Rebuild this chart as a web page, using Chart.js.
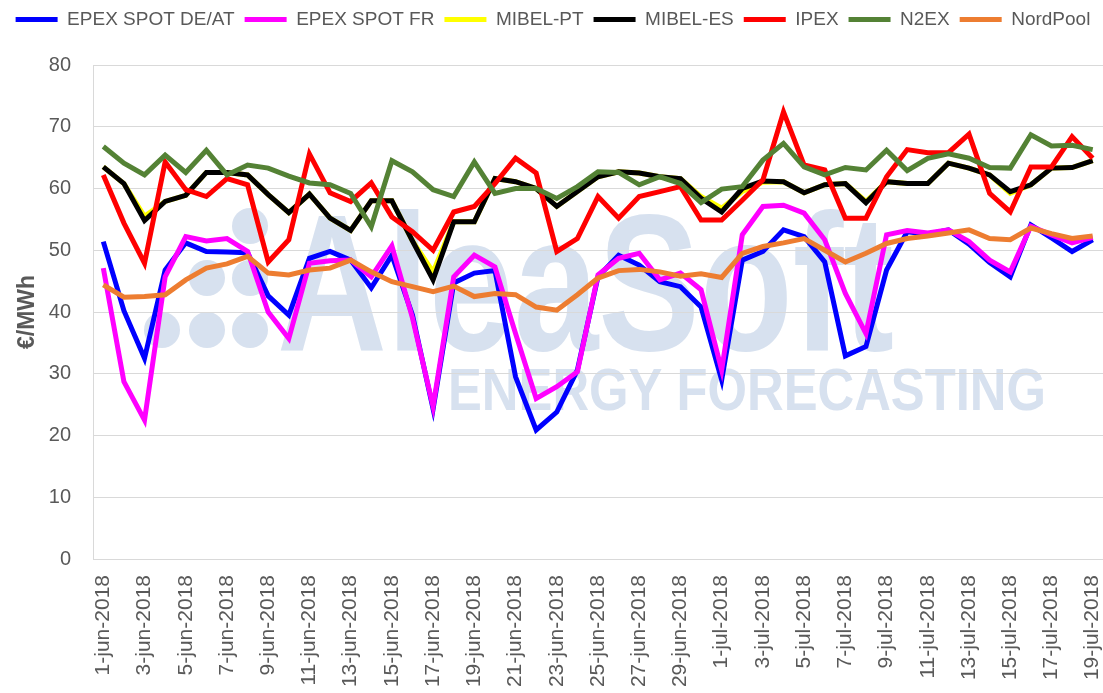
<!DOCTYPE html>
<html>
<head>
<meta charset="utf-8">
<script src="https://cdn.jsdelivr.net/npm/chart.js@4.4.0/dist/chart.umd.min.js"></script>
<style>
  body { margin: 0; background: #fff; }
</style>
</head>
<body>
<canvas id="chartPrecios" width="1103" height="693"></canvas>
<script>
var fechas = ["1-jun-2018","2-jun-2018","3-jun-2018","4-jun-2018","5-jun-2018","6-jun-2018","7-jun-2018","8-jun-2018","9-jun-2018","10-jun-2018",
  "11-jun-2018","12-jun-2018","13-jun-2018","14-jun-2018","15-jun-2018","16-jun-2018","17-jun-2018","18-jun-2018","19-jun-2018","20-jun-2018",
  "21-jun-2018","22-jun-2018","23-jun-2018","24-jun-2018","25-jun-2018","26-jun-2018","27-jun-2018","28-jun-2018","29-jun-2018","30-jun-2018",
  "1-jul-2018","2-jul-2018","3-jul-2018","4-jul-2018","5-jul-2018","6-jul-2018","7-jul-2018","8-jul-2018","9-jul-2018","10-jul-2018",
  "11-jul-2018","12-jul-2018","13-jul-2018","14-jul-2018","15-jul-2018","16-jul-2018","17-jul-2018","18-jul-2018","19-jul-2018"];

var epexDeAt = [51.4,40.2,32.5,46.8,51.2,49.8,49.7,49.6,42.6,39.5,48.7,49.8,48.4,43.9,49.2,39.5,24.3,44.7,46.3,46.7,29.5,20.9,23.8,30.6,45.7,49.2,47.6,44.9,44.1,40.8,29.0,48.4,49.8,53.3,52.2,48.1,32.9,34.4,46.8,53.0,52.6,53.3,51.0,48.0,45.7,54.1,52.0,49.8,51.7];
var epexFr = [47.1,28.7,22.5,45.7,52.2,51.5,51.9,49.8,40.0,35.7,47.9,48.3,48.4,45.7,50.7,39.0,24.7,45.7,49.2,47.3,36.5,26.0,27.9,30.3,46.0,48.7,49.5,45.2,46.3,43.6,30.6,52.5,57.1,57.3,56.0,51.7,43.0,36.5,52.5,53.2,52.8,53.3,51.4,48.4,46.5,53.9,52.5,51.2,52.1];
var mibelPt = [63.5,60.8,55.5,57.9,58.9,62.6,62.6,62.2,59.0,56.1,59.1,55.2,53.2,58.0,58.0,51.5,46.5,54.6,54.6,61.6,61.1,60.0,57.1,59.5,61.9,62.7,62.5,61.9,61.6,58.7,56.8,59.5,61.0,61.1,59.3,60.6,60.8,57.9,61.1,60.8,60.8,64.1,63.3,62.2,59.2,60.6,63.3,63.4,64.5];
var mibelEs = [63.5,60.8,54.8,57.9,58.9,62.6,62.6,62.2,59.0,56.1,59.1,55.2,53.2,58.0,58.0,51.5,45.2,54.6,54.6,61.6,61.1,60.0,57.1,59.5,61.9,62.7,62.5,61.9,61.6,58.4,56.2,60.0,61.2,61.1,59.3,60.6,60.8,57.7,61.1,60.8,60.8,64.1,63.3,62.2,59.5,60.6,63.3,63.4,64.5];
var ipex = [62.2,54.4,47.9,64.3,59.8,58.7,61.6,60.6,48.1,51.7,65.6,59.3,57.9,60.9,55.4,53.0,50.0,56.2,57.1,60.8,64.9,62.5,49.8,51.9,58.7,55.2,58.7,59.5,60.3,54.9,54.9,58.1,61.4,72.4,63.8,63.0,55.2,55.2,61.9,66.3,65.8,65.8,68.8,59.2,56.2,63.5,63.5,68.4,64.9];
var n2ex = [66.8,64.1,62.2,65.4,62.6,66.2,62.2,63.8,63.3,62.0,60.9,60.6,59.2,53.8,64.5,62.7,59.8,58.7,64.3,59.2,60.0,60.0,58.4,60.3,62.7,62.6,60.6,61.9,60.8,57.7,59.9,60.3,64.6,67.3,63.5,62.2,63.4,63.0,66.2,62.9,64.9,65.6,64.9,63.4,63.3,68.7,66.9,67.0,66.3];
var nordPool = [44.4,42.4,42.5,42.8,45.2,47.1,47.8,49.0,46.3,46.0,46.8,47.1,48.4,46.5,44.9,44.1,43.3,44.2,42.5,43.0,42.8,40.8,40.3,42.8,45.5,46.7,46.9,46.5,45.8,46.2,45.6,49.5,50.6,51.2,51.9,50.0,48.1,49.5,51.1,51.9,52.3,52.8,53.3,51.9,51.7,53.6,52.7,51.9,52.3];

var ticksY = [0,10,20,30,40,50,60,70,80];

var series = [
  { label: "EPEX SPOT DE/AT", data: epexDeAt, color: "#0000ff" },
  { label: "EPEX SPOT FR", data: epexFr, color: "#ff00ff" },
  { label: "MIBEL-PT", data: mibelPt, color: "#ffff00" },
  { label: "MIBEL-ES", data: mibelEs, color: "#000000" },
  { label: "IPEX", data: ipex, color: "#ff0000" },
  { label: "N2EX", data: n2ex, color: "#548235" },
  { label: "NordPool", data: nordPool, color: "#ed7d31" }
];

var fuente = "'Liberation Sans', Arial, sans-serif";
var gris = "#595959";

// fondo blanco + marca de agua
var fondo = {
  id: 'fondo',
  beforeDraw: function (chart) {
    var ctx = chart.ctx;
    ctx.save();
    ctx.fillStyle = '#ffffff';
    ctx.fillRect(0, 0, chart.width, chart.height);
    ctx.fillStyle = '#d7e1ef';
    ctx.textAlign = 'left';
    ctx.textBaseline = 'alphabetic';
    var puntos = [[250,226],[207,278],[250,278],[162,330],[207,330],[250,330]];
    puntos.forEach(function (p) {
      ctx.beginPath();
      ctx.arc(p[0], p[1], 18, 0, Math.PI * 2);
      ctx.fill();
    });
    ctx.font = "bold 195px " + fuente;
    var w = ctx.measureText("AleaSoft").width;
    ctx.translate(277, 350);
    ctx.scale(617 / w, 1);
    ctx.fillText("AleaSoft", 0, 0);
    ctx.restore();
    ctx.save();
    ctx.fillStyle = '#d7e1ef';
    ctx.textAlign = 'left';
    ctx.textBaseline = 'alphabetic';
    ctx.font = "bold 59px " + fuente;
    w = ctx.measureText("ENERGY FORECASTING").width;
    ctx.translate(448, 410);
    ctx.scale(598 / w, 1);
    ctx.fillText("ENERGY FORECASTING", 0, 0);
    ctx.restore();
  }
};

// marco del area de trazado
var marco = {
  id: 'marco',
  beforeDatasetsDraw: function (chart) {
    var a = chart.chartArea;
    var ctx = chart.ctx;
    ctx.save();
    ctx.strokeStyle = '#d9d9d9';
    ctx.lineWidth = 1;
    ctx.strokeRect(Math.round(a.left) + 0.5, Math.round(a.top) + 0.5, Math.round(a.right - a.left), Math.round(a.bottom - a.top));
    ctx.restore();
  }
};

// altura fija de la leyenda
var alturaLeyenda = {
  id: 'alturaLeyenda',
  beforeInit: function (chart) {
    var fit = chart.legend.fit;
    chart.legend.fit = function () {
      fit.call(this);
      this.height = 65;
    };
  }
};

var ctx = document.getElementById('chartPrecios').getContext('2d');

var chart = new Chart(ctx, {
  type: 'line',
  data: {
    labels: fechas,
    datasets: series.map(function (s, i) {
      return {
        label: s.label,
        data: s.data,
        borderColor: s.color,
        backgroundColor: s.color,
        borderWidth: 5,
        pointRadius: 0,
        tension: 0,
        order: series.length - 1 - i
      };
    })
  },
  options: {
    responsive: false,
    animation: false,
    devicePixelRatio: 1,
    layout: { padding: { left: 0, right: -3, top: 0, bottom: 0 } },
    plugins: {
      tooltip: { enabled: false },
      legend: {
        position: 'top',
        labels: {
          boxWidth: 42,
          boxHeight: 5,
          padding: 10,
          color: gris,
          font: { family: fuente, size: 19 },
          sort: function (a, b) { return a.datasetIndex - b.datasetIndex; },
          generateLabels: function (c) {
            return Chart.defaults.plugins.legend.labels.generateLabels(c).map(function (l) {
              l.lineWidth = 0;
              return l;
            });
          }
        }
      }
    },
    scales: {
      x: {
        offset: true,
        grid: { display: false, drawTicks: false },
        border: { display: false },
        afterFit: function (scale) {
          scale.height = 134;
          scale.paddingLeft = 0;
          scale.paddingRight = 0;
        },
        ticks: {
          autoSkip: false,
          minRotation: 90,
          maxRotation: 90,
          padding: 16,
          color: gris,
          font: { family: fuente, size: 21 },
          callback: function (v, i) { return i % 2 === 0 ? fechas[i] : ''; }
        }
      },
      y: {
        min: 0,
        max: 80,
        afterBuildTicks: function (scale) {
          scale.ticks = ticksY.map(function (v) { return { value: v }; });
        },
        afterFit: function (scale) { scale.width = 93; },
        grid: { color: '#d9d9d9', lineWidth: 1, drawTicks: false },
        border: { display: false },
        ticks: {
          padding: 22,
          color: gris,
          font: { family: fuente, size: 20 }
        },
        title: {
          display: true,
          text: '€/MWh',
          color: gris,
          padding: { top: 14, bottom: 0 },
          font: { family: fuente, size: 23, weight: 'bold' }
        }
      }
    }
  },
  plugins: [fondo, marco, alturaLeyenda]
});
</script>
</body>
</html>
